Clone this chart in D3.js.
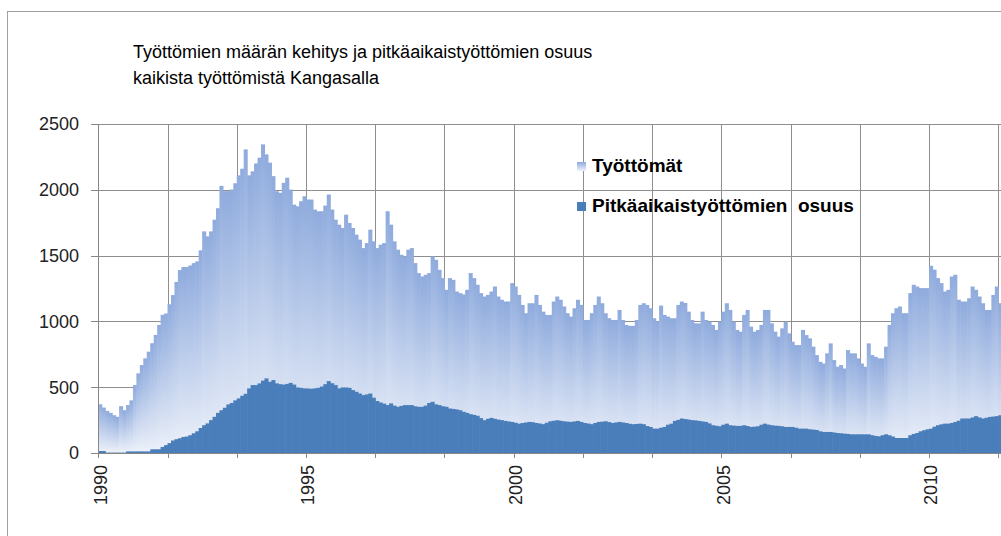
<!DOCTYPE html>
<html>
<head>
<meta charset="utf-8">
<script src="https://cdn.jsdelivr.net/npm/d3@7"></script>
<style>
  body { margin: 0; background: #fff; }
  svg { display: block; font-family: "Liberation Sans", Arial, sans-serif; }
</style>
</head>
<body>
<svg width="1001" height="536"></svg>
<script>
const titleLines = [
  'Työttömien määrän kehitys ja pitkäaikaistyöttömien osuus',
  'kaikista työttömistä Kangasalla'
];
const legendNames = ['Työttömät', 'Pitkäaikaistyöttömien  osuus'];
const yTicks = [0, 500, 1000, 1500, 2000, 2500];
// year labels sit on every 60th month
const yearLabels = ['1990', '1995', '2000', '2005', '2010'];

// monthly values from 1990-01, one row per year
const tyottomat = [
  370, 345, 320, 305, 287, 275, 356, 325, 364, 400, 516, 605,
  668, 719, 770, 834, 897, 973, 1050, 1060, 1130, 1200, 1300, 1390,
  1413, 1413, 1425, 1443, 1456, 1540, 1684, 1646, 1684, 1773, 1860, 2030,
  1990, 1990, 2002, 2050, 2110, 2160, 2307, 2110, 2140, 2200, 2244, 2345,
  2269, 2206, 2104, 1989, 1977, 2053, 2092, 2002, 1887, 1875, 1913, 1951,
  1926, 1926, 1850, 1837, 1837, 1880, 1964, 1850, 1773, 1735, 1710, 1811,
  1748, 1710, 1659, 1621, 1557, 1595, 1697, 1608, 1557, 1583, 1595, 1837,
  1735, 1608, 1545, 1506, 1494, 1545, 1557, 1443, 1367, 1341, 1354, 1367,
  1494, 1468, 1392, 1329, 1240, 1329, 1316, 1227, 1215, 1205, 1240, 1367,
  1329, 1278, 1215, 1189, 1201, 1227, 1265, 1189, 1164, 1151, 1151, 1291,
  1265, 1201, 1125, 1062, 1138, 1138, 1201, 1125, 1074, 1049, 1049, 1151,
  1189, 1164, 1113, 1062, 1036, 1100, 1164, 1125, 1011, 1011, 1062, 1125,
  1189, 1138, 1062, 1024, 1011, 1011, 1087, 1011, 973, 966, 966, 1011,
  1125, 1138, 1125, 1100, 1024, 1000, 1120, 1049, 1036, 1024, 1024, 1125,
  1151, 1140, 1074, 1011, 985, 985, 1074, 1011, 998, 973, 935, 998,
  1074, 1138, 1087, 998, 935, 922, 1049, 1087, 960, 922, 935, 973,
  1087, 1087, 985, 922, 884, 947, 998, 909, 846, 820, 820, 935,
  896, 871, 808, 744, 693, 680, 757, 833, 706, 655, 668, 642,
  782, 757, 757, 719, 680, 655, 833, 744, 731, 719, 719, 808,
  973, 1062, 1100, 1113, 1062, 1062, 1215, 1278, 1265, 1253, 1253, 1253,
  1423, 1393, 1329, 1291, 1227, 1240, 1341, 1354, 1164, 1151, 1151, 1176,
  1265, 1240, 1189, 1138, 1087, 1087, 1201, 1265, 1138, 1024
];

const pitkaaikaiset = [
  15, 15, 3, 3, 3, 3, 3, 3, 12, 12, 12, 12,
  12, 12, 12, 28, 28, 28, 46, 60, 75, 95, 105, 112,
  122, 125, 135, 150, 165, 190, 211, 225, 250, 275, 305, 325,
  344, 369, 380, 400, 415, 435, 450, 491, 516, 516, 529, 550,
  567, 541, 554, 529, 523, 520, 525, 533, 520, 498, 495, 491,
  490, 488, 491, 495, 505, 523, 546, 530, 516, 491, 498, 498,
  495, 478, 465, 452, 440, 445, 452, 420, 395, 384, 375, 364,
  377, 360, 351, 358, 364, 364, 364, 355, 351, 351, 360, 380,
  389, 370, 364, 355, 351, 338, 335, 331, 325, 313, 305, 295,
  290, 283, 265, 249, 260, 267, 260, 254, 250, 244, 240, 236,
  230, 223, 228, 232, 236, 234, 228, 224, 219, 230, 241, 245,
  249, 245, 241, 238, 236, 240, 244, 236, 228, 224, 219, 228,
  236, 238, 241, 235, 228, 232, 236, 232, 228, 222, 219, 221,
  223, 219, 205, 198, 185, 185, 192, 198, 215, 223, 244, 252,
  262, 258, 254, 250, 248, 244, 240, 236, 225, 211, 207, 203,
  215, 223, 211, 208, 206, 206, 211, 205, 198, 200, 203, 215,
  223, 216, 211, 208, 206, 203, 198, 198, 198, 192, 185, 185,
  185, 180, 178, 175, 165, 160, 160, 160, 156, 152, 150, 147,
  145, 142, 142, 142, 142, 142, 142, 135, 130, 127, 135, 142,
  135, 125, 114, 114, 114, 114, 135, 145, 152, 165, 173, 180,
  185, 200, 211, 218, 223, 223, 228, 236, 245, 262, 262, 262,
  270, 280, 270, 262, 268, 274, 277, 280, 287, 285
];

const svg = d3.select('svg');
const width = +svg.attr('width');
const n = tyottomat.length;
const step = 3.4615;
const left = 98.3;

const x = d3.scaleBand()
  .domain(d3.range(n))
  .range([left, left + n * step])
  .padding(0);
const y = d3.scaleLinear()
  .domain([0, 2500])
  .range([453, 124]);

const grad = svg.append('defs').append('linearGradient')
  .attr('id', 'lightGrad')
  .attr('x1', 0).attr('y1', 0).attr('x2', 0).attr('y2', 1);
grad.append('stop').attr('offset', '0%').attr('stop-color', 'rgb(143,171,221)');
grad.append('stop').attr('offset', '100%').attr('stop-color', 'rgb(238,242,250)');

// chart frame (cut by the window on the right and bottom)
svg.append('rect')
  .attr('x', 7.5).attr('y', 11.5)
  .attr('width', 1100).attr('height', 600)
  .attr('fill', 'none')
  .attr('stroke', '#a0a0a0');

const grid = svg.append('g').attr('stroke', '#8e8e8e').attr('stroke-width', 1);
grid.selectAll('.hgrid')
  .data(yTicks.filter(v => v > 0))
  .enter().append('line')
  .attr('class', 'hgrid')
  .attr('x1', 98).attr('x2', width)
  .attr('y1', v => Math.round(y(v)) + 0.5)
  .attr('y2', v => Math.round(y(v)) + 0.5);
grid.selectAll('.vgrid')
  .data(d3.range(20, n, 20))
  .enter().append('line')
  .attr('class', 'vgrid')
  .attr('x1', i => Math.round(x(i)) + 0.5)
  .attr('x2', i => Math.round(x(i)) + 0.5)
  .attr('y1', y(2500)).attr('y2', y(0));

svg.append('g').selectAll('rect')
  .data(tyottomat)
  .enter().append('rect')
  .attr('x', (_, i) => x(i))
  .attr('width', x.bandwidth() + 0.6)
  .attr('y', v => y(v))
  .attr('height', v => y(0) - y(v))
  .attr('fill', 'url(#lightGrad)');

svg.append('g').selectAll('rect')
  .data(pitkaaikaiset)
  .enter().append('rect')
  .attr('x', (_, i) => x(i))
  .attr('width', x.bandwidth() + 0.6)
  .attr('y', v => y(v))
  .attr('height', v => y(0) - y(v))
  .attr('fill', '#4a7ebb');

// axes
const axes = svg.append('g').attr('stroke', '#868686').attr('stroke-width', 1);
axes.append('line')
  .attr('x1', 98.5).attr('x2', 98.5)
  .attr('y1', y(2500)).attr('y2', y(0) + 1);
axes.append('line')
  .attr('x1', 98).attr('x2', width)
  .attr('y1', y(0) + 0.5).attr('y2', y(0) + 0.5);
axes.selectAll('.ytick')
  .data(yTicks)
  .enter().append('line')
  .attr('class', 'ytick')
  .attr('x1', 91).attr('x2', 98)
  .attr('y1', v => Math.round(y(v)) + 0.5)
  .attr('y2', v => Math.round(y(v)) + 0.5);
axes.selectAll('.xtick')
  .data(d3.range(0, n, 20))
  .enter().append('line')
  .attr('class', 'xtick')
  .attr('x1', i => Math.round(x(i)) + 0.5)
  .attr('x2', i => Math.round(x(i)) + 0.5)
  .attr('y1', y(0)).attr('y2', y(0) + 5);

svg.append('g').selectAll('text')
  .data(yTicks)
  .enter().append('text')
  .attr('x', 79)
  .attr('y', v => y(v))
  .attr('dy', '0.35em')
  .attr('text-anchor', 'end')
  .attr('font-size', 18)
  .attr('fill', '#222')
  .text(v => v);

svg.append('g').selectAll('text')
  .data(yearLabels)
  .enter().append('text')
  .attr('transform', (_, k) => 'translate(' + (x(k * 60) + 2) + ',465) rotate(-90)')
  .attr('dy', '0.35em')
  .attr('text-anchor', 'end')
  .attr('font-size', 18)
  .attr('fill', '#222')
  .text(d => d);

svg.append('g').selectAll('text')
  .data(titleLines)
  .enter().append('text')
  .attr('x', 133)
  .attr('y', (_, i) => 58 + i * 26)
  .attr('font-size', 18)
  .attr('fill', '#000')
  .text(d => d);

const legend = svg.append('g');
const legendFills = ['url(#lightGrad)', '#4a7ebb'];
legendNames.forEach((name, i) => {
  legend.append('rect')
    .attr('x', 577).attr('y', 162 + i * 40)
    .attr('width', 9).attr('height', 9)
    .attr('fill', legendFills[i]);
  legend.append('text')
    .attr('x', 592).attr('y', 172 + i * 40)
    .attr('font-size', 19)
    .attr('font-weight', 'bold')
    .attr('fill', '#000')
    .style('white-space', 'pre')
    .text(name);
});
</script>
</body>
</html>
